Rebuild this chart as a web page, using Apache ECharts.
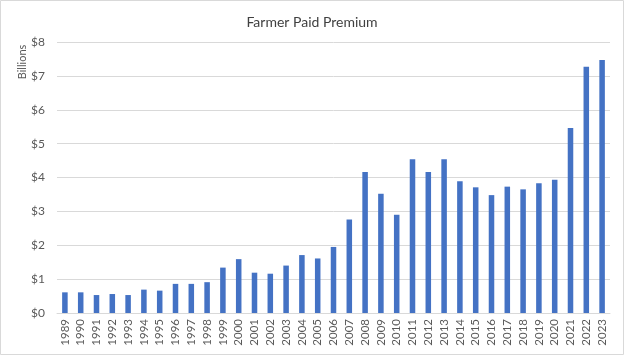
<!DOCTYPE html>
<html><head><meta charset="utf-8">
<script src="https://cdn.jsdelivr.net/npm/echarts@6/dist/echarts.min.js"></script>
<style>html,body{margin:0;padding:0;background:#fff}#c{width:624px;height:355px}</style>
</head><body><div id="c"></div>
<script>
const years = ['1989','1990','1991','1992','1993','1994','1995','1996','1997','1998','1999','2000','2001','2002','2003','2004','2005','2006','2007','2008','2009','2010','2011','2012','2013','2014','2015','2016','2017','2018','2019','2020','2021','2022','2023'];
const premium = [0.61,0.61,0.53,0.56,0.53,0.69,0.66,0.86,0.86,0.91,1.34,1.59,1.19,1.16,1.40,1.71,1.61,1.95,2.76,4.16,3.52,2.90,4.54,4.16,4.54,3.89,3.71,3.48,3.73,3.65,3.83,3.93,5.46,7.27,7.47];
const titleText = 'Farmer Paid Premium';
const yName = 'Billions';
const font = 'Lato';
const chart = echarts.init(document.getElementById('c'));
chart.setOption({
  animation:false,
  textStyle:{fontFamily:font},
  title:{text:titleText,left:'center',top:10,textStyle:{fontFamily:font,fontSize:14,fontWeight:'normal',color:'#404040'}},
  graphic:[
    {type:'rect',shape:{x:0.5,y:0.5,width:623,height:354},style:{fill:null,stroke:'#d9d9d9',lineWidth:1}},
    {type:'text',x:22,y:62,rotation:Math.PI/2,style:{text:yName,fontFamily:font,fontSize:11,fill:'#595959',align:'center',verticalAlign:'middle'}}
  ],
  grid:{left:57,right:14,top:42,bottom:42},
  xAxis:{type:'category',data:years,
    axisLine:{lineStyle:{color:'#d9d9d9'}},axisTick:{show:false},
    axisLabel:{rotate:90,interval:0,fontSize:11.5,color:'#595959',margin:6}},
  yAxis:{type:'value',min:0,max:8,interval:1,
    axisLine:{show:false},axisTick:{show:false},
    splitLine:{lineStyle:{color:'#d9d9d9'}},
    axisLabel:{formatter:v=>'$'+v,fontSize:12,color:'#595959',margin:12}},
  series:[{type:'bar',data:premium,barWidth:'35%',itemStyle:{color:'#4472C4'}}]
});
</script></body></html>
